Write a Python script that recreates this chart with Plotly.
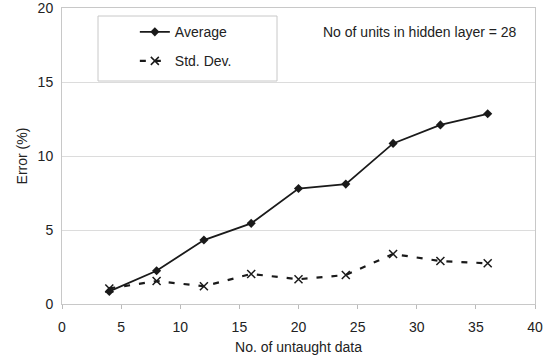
import plotly.graph_objects as go

x_vals = [4, 8, 12, 16, 20, 24, 28, 32, 36]
average = [0.85, 2.25, 4.32, 5.45, 7.8, 8.1, 10.85, 12.1, 12.85]
std_dev = [1.05, 1.55, 1.2, 2.03, 1.67, 1.96, 3.38, 2.9, 2.75]
x_ticks = [0, 5, 10, 15, 20, 25, 30, 35, 40]
y_ticks = [0, 5, 10, 15, 20]

FONT = "Liberation Sans, Arial, sans-serif"
fig = go.Figure()
fig.add_trace(go.Scatter(
    x=x_vals, y=average, name="Average", mode="lines+markers",
    line=dict(color="#1a1a1a", width=1.8),
    marker=dict(symbol="diamond", size=7, color="#1a1a1a"),
    legend="legend"))
fig.add_trace(go.Scatter(
    x=x_vals, y=std_dev, name="Std. Dev.", mode="lines+markers",
    line=dict(color="#1a1a1a", width=2.2, dash="6px,9px"),
    marker=dict(symbol="x-thin", size=8, line=dict(color="#1a1a1a", width=1.5)),
    legend="legend2"))

fig.update_layout(
    width=551, height=361,
    margin=dict(l=62, r=16, t=8, b=57, autoexpand=False),
    paper_bgcolor="white", plot_bgcolor="white",
    font=dict(family=FONT, size=14, color="#222"),
    showlegend=True,
    legend=dict(x=0.154, y=0.918, xanchor="left", yanchor="middle",
                bgcolor="rgba(0,0,0,0)", font=dict(size=14, family=FONT)),
    legend2=dict(x=0.154, y=0.82, xanchor="left", yanchor="middle",
                 bgcolor="rgba(0,0,0,0)", font=dict(size=14, family=FONT)),
    xaxis=dict(range=[0, 40], tickvals=x_ticks, showgrid=False, automargin=False,
               ticks="outside", ticklen=4, tickcolor="#bbb", ticklabelstandoff=6,
               ticklabeloverflow="allow",
               showline=True, linecolor="#c8c8c8", linewidth=1, mirror=True,
               zeroline=False,
               title=dict(text="No. of untaught data", standoff=8,
                          font=dict(size=14, family=FONT))),
    yaxis=dict(range=[0, 20], tickvals=y_ticks, showgrid=True, automargin=False,
               gridcolor="#dcdcdc", gridwidth=1,
               ticks="", ticklabelstandoff=5, ticklabeloverflow="allow",
               showline=True, linecolor="#c8c8c8", linewidth=1, mirror=True,
               zeroline=False,
               title=dict(text="Error (%)", standoff=6,
                          font=dict(size=14, family=FONT))),
)

fig.add_shape(type="rect", xref="paper", yref="paper",
              x0=(98 - 62) / 473, x1=(277 - 62) / 473,
              y0=(304 - 81) / 296, y1=(304 - 16) / 296,
              line=dict(color="#c8c8c8", width=1), fillcolor="white", layer="below")

fig.add_annotation(text="No of units in hidden layer = 28", xref="paper", yref="paper",
                   x=(519 - 62) / 473, y=(304 - 32) / 296, xanchor="right",
                   yanchor="middle", showarrow=False,
                   font=dict(size=14, family=FONT, color="#222"))

fig.write_html("out.html", config={"displayModeBar": False},
               post_script="document.body.style.margin='0px';document.body.style.overflow='hidden';")
